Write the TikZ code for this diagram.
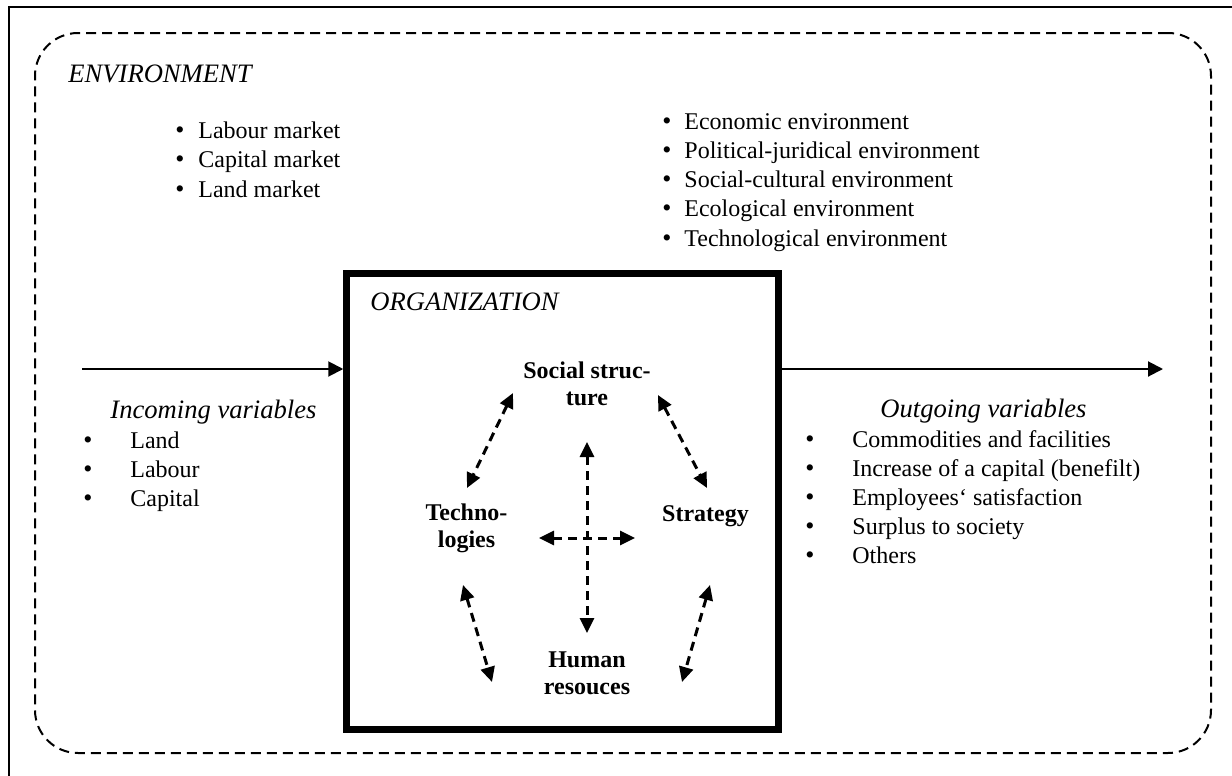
\documentclass[tikz,border=0pt]{standalone}
\usepackage{fontspec}
\setmainfont{Liberation Serif}
\usetikzlibrary{arrows.meta}
\begin{document}
\begin{tikzpicture}[x=0.5pt,y=-0.5pt,
  txt/.style={inner sep=0pt, anchor=base west, font=\fontsize{12}{14}\selectfont},
  ttl/.style={inner sep=0pt, anchor=base west, font=\fontsize{13.3}{16}\selectfont\itshape},
  lbl/.style={inner sep=0pt, anchor=base, font=\fontsize{12}{14}\selectfont\bfseries},
  bul/.style={inner sep=0pt, anchor=base, font=\fontsize{13}{15}\selectfont},
  envbox/.style={draw, line width=1pt, dash pattern=on 5pt off 3pt, rounded corners=21.5pt, minimum width=588pt, minimum height=360pt, inner sep=0pt},
  orgbox/.style={draw, line width=3.25pt, minimum width=216pt, minimum height=228pt, inner sep=0pt},
  flow/.style={line width=1pt, -{Triangle[length=7.5pt,width=7.5pt]}},
  link/.style={line width=1.5pt, dash pattern=on 4.5pt off 3pt, {Triangle[length=7.5pt,width=7pt]}-{Triangle[length=7.5pt,width=7pt]}}
]
\useasboundingbox (0,0) rectangle (1232,776);
% outer frame (cropped)
\draw[line width=1.2pt] (9,776) -- (9,7) -- (1232,7);
% environment
\node[envbox] (env) at (623,393) {};
\node[ttl] (envt) at (68,83) {ENVIRONMENT};
% top-left list
\node[bul] (b1) at (180,138) {\textbullet};
\node[txt] (t1) at (198,138) {Labour market};
\node[bul] (b2) at (180,167.5) {\textbullet};
\node[txt] (t2) at (198,167.5) {Capital market};
\node[bul] (b3) at (180,197) {\textbullet};
\node[txt] (t3) at (198,197) {Land market};
% top-right list
\node[bul] (c1) at (667,129) {\textbullet};
\node[txt] (u1) at (684,129) {Economic environment};
\node[bul] (c2) at (667,158) {\textbullet};
\node[txt] (u2) at (684,158) {Political-juridical environment};
\node[bul] (c3) at (667,187) {\textbullet};
\node[txt] (u3) at (684,187) {Social-cultural environment};
\node[bul] (c4) at (667,216.5) {\textbullet};
\node[txt] (u4) at (684,216.5) {Ecological environment};
\node[bul] (c5) at (667,246) {\textbullet};
\node[txt] (u5) at (684,246) {Technological environment};
% organization
\node[orgbox] (org) at (562.5,501.5) {};
\node[ttl] (orgt) at (370,310) {ORGANIZATION};
% flows
\coordinate (inL) at (82,369);
\coordinate (outR) at (1163,369);
\draw[flow] (inL) -- (inL -| org.west);
\draw[flow] (outR -| org.east) -- (outR);
% incoming
\node[ttl] (inc) at (110,418) {Incoming variables};
\node[bul] (ib1) at (88,448) {\textbullet};
\node[txt] (it1) at (130,448) {Land};
\node[bul] (ib2) at (88,477) {\textbullet};
\node[txt] (it2) at (130,477) {Labour};
\node[bul] (ib3) at (88,506) {\textbullet};
\node[txt] (it3) at (130,506) {Capital};
% outgoing
\node[ttl] (outg) at (880,417) {Outgoing variables};
\node[bul] (ob1) at (810,447) {\textbullet};
\node[txt] (ot1) at (852,447) {Commodities and facilities};
\node[bul] (ob2) at (810,476) {\textbullet};
\node[txt] (ot2) at (852,476) {Increase of a capital (benefilt)};
\node[bul] (ob3) at (810,505) {\textbullet};
\node[txt] (ot3) at (852,505) {Employees‘ satisfaction};
\node[bul] (ob4) at (810,534) {\textbullet};
\node[txt] (ot4) at (852,534) {Surplus to society};
\node[bul] (ob5) at (810,563) {\textbullet};
\node[txt] (ot5) at (852,563) {Others};
% inner labels
\node[lbl] (soc) at (587,378) {Social struc-};
\node[lbl] (soc2) at (587,405) {ture};
\node[lbl] (tec) at (466.5,520) {Techno-};
\node[lbl] (tec2) at (466.5,547) {logies};
\node[lbl] (str) at (705.5,521) {Strategy};
\node[lbl] (hum) at (587,667) {Human};
\node[lbl] (hum2) at (587,694) {resouces};
% inner links
\coordinate (s1) at (513,393);
\coordinate (t1e) at (467,488);
\coordinate (s2) at (658,395);
\coordinate (r1) at (707,488);
\coordinate (s3) at (587,442);
\coordinate (h3) at (587,633);
\coordinate (l4) at (539,538);
\coordinate (r4) at (635,538);
\coordinate (t5) at (463,585);
\coordinate (h5) at (492,682);
\coordinate (r6) at (710,585);
\coordinate (h6) at (682,682);
\draw[link] (s1) -- (t1e);
\draw[link] (s2) -- (r1);
\draw[link] (s3) -- (h3);
\draw[link] (l4) -- (r4);
\draw[link] (t5) -- (h5);
\draw[link] (r6) -- (h6);
\end{tikzpicture}
\end{document}
